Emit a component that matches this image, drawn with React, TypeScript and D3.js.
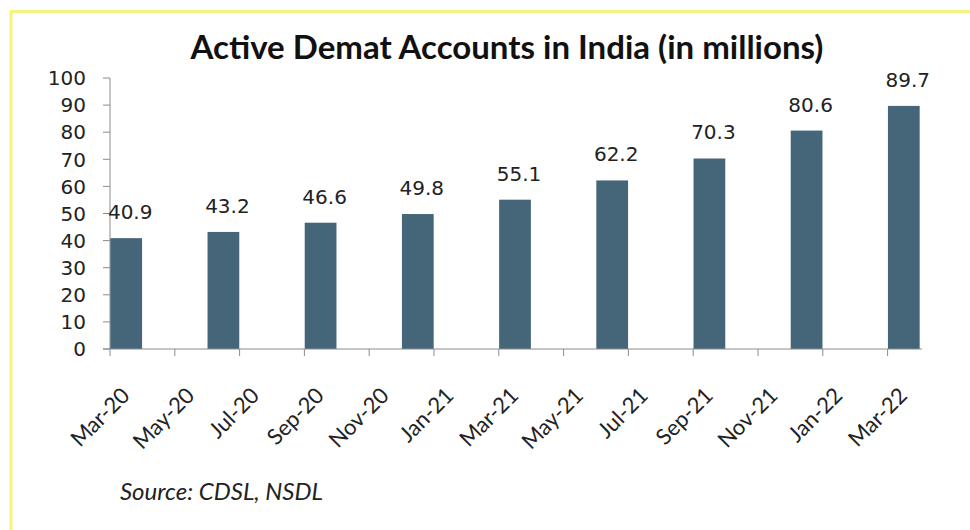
import * as d3 from "d3";

// monthly slots of the date axis (Excel style, one slot per month)
const months = [
  "Mar-20", "Apr-20", "May-20", "Jun-20", "Jul-20", "Aug-20", "Sep-20",
  "Oct-20", "Nov-20", "Dec-20", "Jan-21", "Feb-21", "Mar-21", "Apr-21",
  "May-21", "Jun-21", "Jul-21", "Aug-21", "Sep-21", "Oct-21", "Nov-21",
  "Dec-21", "Jan-22", "Feb-22", "Mar-22",
];

// labelled ticks, every other month
const tickLabels = [
  "Mar-20", "May-20", "Jul-20", "Sep-20", "Nov-20", "Jan-21", "Mar-21",
  "May-21", "Jul-21", "Sep-21", "Nov-21", "Jan-22", "Mar-22",
];

// quarterly data points
const quarters = [
  "Mar-20", "Jun-20", "Sep-20", "Dec-20", "Mar-21", "Jun-21", "Sep-21",
  "Dec-21", "Mar-22",
];
const accounts = [40.9, 43.2, 46.6, 49.8, 55.1, 62.2, 70.3, 80.6, 89.7];

const yTicks = [0, 10, 20, 30, 40, 50, 60, 70, 80, 90, 100];

export default function App() {
  const w = 970;
  const h = 530;
  const margin = { top: 78, right: 50, bottom: 181, left: 110 };

  const x = d3
    .scaleBand<string>()
    .domain(months)
    .range([margin.left, w - margin.right])
    .paddingInner(0.02)
    .paddingOuter(0.01);
  const step = x.step();
  const yScale = d3.scaleLinear().domain([0, 100]).range([h - margin.bottom, margin.top]);
  const y0 = yScale(0);

  // tick sits on the left edge of the month slot
  const tickX = (m: string) => (x(m) as number) - (step * x.paddingInner()) / 2;

  const axisColor = "#8c8c8c";
  const barColor = "#456579";

  return (
    <svg
      width={w}
      height={h}
      style={{ position: "absolute", left: 0, top: 0, background: "#fff" }}
    >
      <rect width={w} height={h} fill="#ffffff" />
      {/* yellow frame */}
      <line x1={11} y1={11.5} x2={w} y2={11.5} stroke="#f4f47c" strokeWidth={3} />
      <line x1={11} y1={10} x2={11} y2={h} stroke="#f4f47c" strokeWidth={3} />

      <text
        x={507}
        y={59}
        textAnchor="middle"
        fontFamily="Lato, 'Liberation Sans', sans-serif"
        fontWeight="bold"
        fontSize={33}
        fill="#111"
      >
        Active Demat Accounts in India (in millions)
      </text>

      {/* y axis */}
      <line x1={margin.left} x2={margin.left} y1={yScale(100)} y2={y0} stroke={axisColor} />
      {yTicks.map((t) => (
        <g key={t}>
          <line x1={margin.left - 7} x2={margin.left} y1={yScale(t)} y2={yScale(t)} stroke={axisColor} />
          <text
            x={86}
            y={yScale(t)}
            dy="0.36em"
            textAnchor="end"
            fontFamily="'DejaVu Sans', sans-serif"
            fontSize={20}
            fill="#222"
          >
            {t}
          </text>
        </g>
      ))}

      {/* bars */}
      {quarters.map((q, i) => (
        <rect
          key={q}
          x={x(q)}
          y={yScale(accounts[i])}
          width={x.bandwidth()}
          height={y0 - yScale(accounts[i])}
          fill={barColor}
        />
      ))}
      {quarters.map((q, i) => (
        <text
          key={"l" + q}
          x={(x(q) as number) + x.bandwidth() / 2 + 4}
          y={yScale(accounts[i]) - 19}
          textAnchor="middle"
          fontFamily="'DejaVu Sans', sans-serif"
          fontSize={20}
          fill="#222"
        >
          {accounts[i]}
        </text>
      ))}

      {/* x axis */}
      <line x1={margin.left - 7} x2={w - margin.right + 2} y1={y0} y2={y0} stroke={axisColor} />
      {tickLabels.map((m) => {
        const tx = tickX(m);
        return (
          <g key={m}>
            <line x1={tx} x2={tx} y1={y0} y2={y0 + 7} stroke={axisColor} />
            <text
              transform={`translate(${tx + 21},${y0 + 48}) rotate(-45)`}
              textAnchor="end"
              fontFamily="Lato, 'Liberation Sans', sans-serif"
              fontSize={22}
              fill="#222"
            >
              {m}
            </text>
          </g>
        );
      })}

      <text
        x={120}
        y={500}
        fontFamily="Lato, 'Liberation Sans', sans-serif"
        fontStyle="italic"
        fontSize={24}
        fill="#222"
      >
        Source: CDSL, NSDL
      </text>
    </svg>
  );
}
